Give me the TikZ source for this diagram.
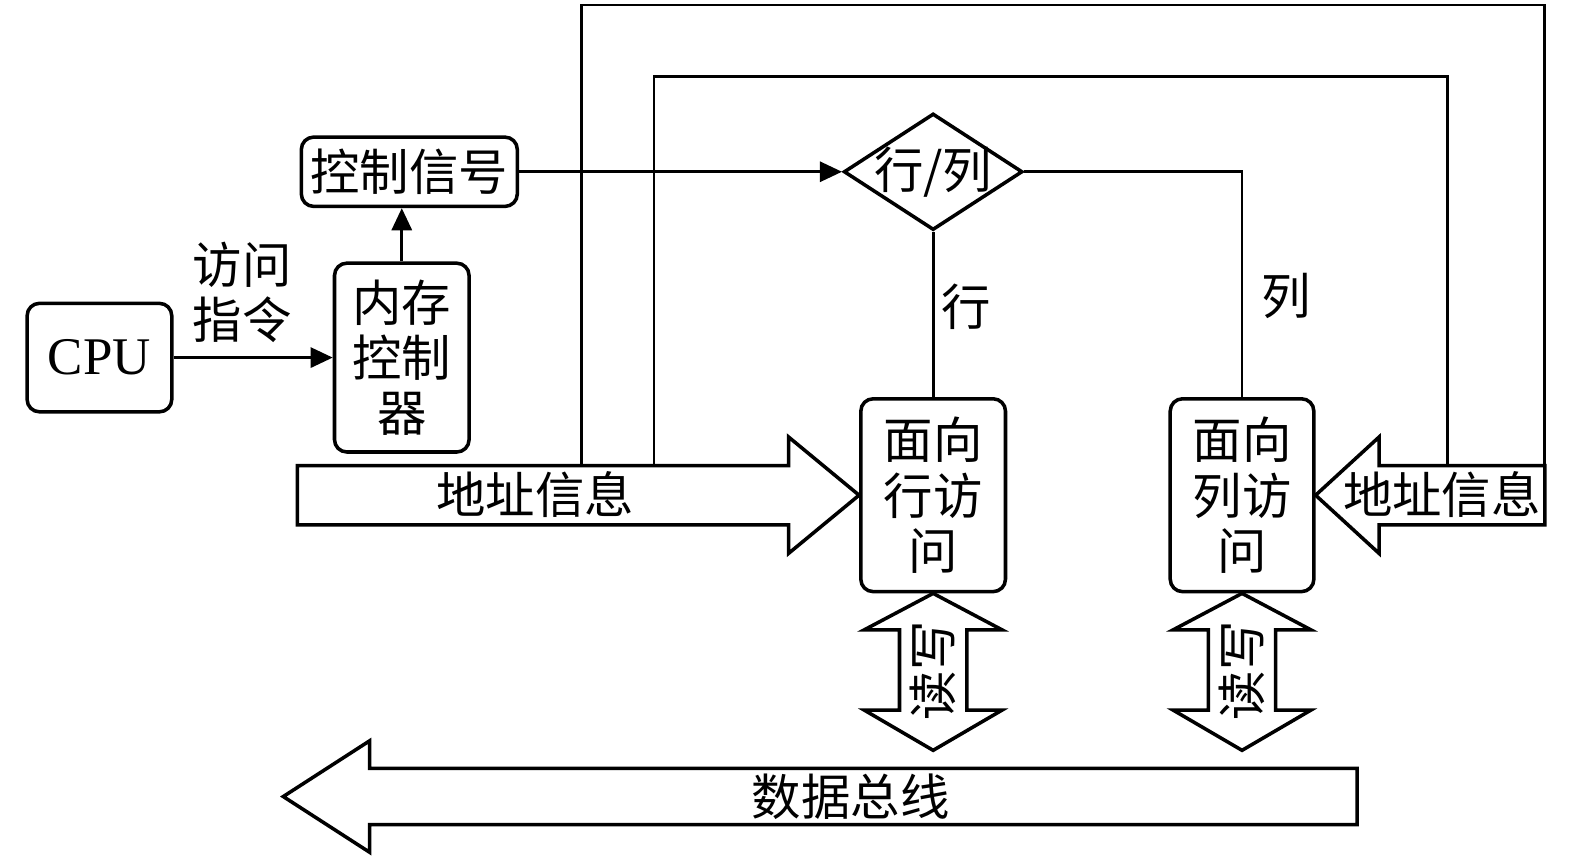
\documentclass[tikz,border=0pt]{standalone}
\usepackage{fontspec}
\setmainfont{Liberation Serif}
\newfontfamily\cjk{Noto Sans CJK SC}
\usetikzlibrary{arrows.meta,positioning,shapes.geometric}

\tikzset{
  blk/.style={draw, line width=1pt, rounded corners=3.5pt, align=center, inner sep=0pt,
              font=\cjk\fontsize{14}{15.6}\selectfont},
  lbl/.style={inner sep=0pt, align=center, font=\cjk\fontsize{14}{15.6}\selectfont},
  fat/.style={draw, line width=1pt, line join=miter},
  wire/.style={line width=0.8pt},
  sig/.style={wire, -{Triangle[length=0.22cm,width=0.2cm]}},
}

\begin{document}
\begin{tikzpicture}
  \useasboundingbox (0,0) rectangle (15.68,8.54);

  %% Blocks
  \node[blk, minimum width=1.44cm, minimum height=1.08cm, font=\fontsize{15}{17}\selectfont] (cpu) at (0.99,4.98) {CPU};
  \node[blk, minimum width=1.34cm, minimum height=1.88cm] (mc)   at (4.00,4.98)   {内存\\控制\\器};
  \node[blk, minimum width=2.15cm, minimum height=0.69cm] (ctrl) at (4.075,6.83)  {控制信号};
  \node[draw, line width=1pt, diamond, aspect=1.53, inner sep=0pt, minimum width=1.78cm, minimum height=1.16cm,
        label={[lbl]center:行/列}] (rc) at (9.29,6.83) {};
  \node[blk, minimum width=1.44cm, minimum height=1.92cm] (rowacc) at (9.29,3.61)   {面向\\行访\\问};
  \node[blk, minimum width=1.43cm, minimum height=1.92cm] (colacc) at (12.365,3.61) {面向\\列访\\问};

  %% Control path
  \draw[sig] (cpu.east) -- (mc.west);
  \node[lbl] (instr) at (2.41,5.63) {访问\\指令};
  \draw[sig] (mc.north) -- (mc.north |- ctrl.south);
  \draw[sig] (ctrl.east) -- (rc.west);
  \draw[wire] (rc.south) -- (rowacc.north);
  \draw[wire] (rc.east) -| (colacc.north);
  \node[lbl] (rowlbl) at (9.62,5.49) {行};
  \node[lbl] (collbl) at (12.80,5.59) {列};

  %% Address arrows
  \draw[fat] (2.96,3.315) -- (7.85,3.315) -- (7.85,3.03) -- (rowacc.west) -- (7.85,4.19) -- (7.85,3.905) -- (2.96,3.905) -- cycle;
  \node[lbl] (addrl) at (5.33,3.62) {地址信息};
  \draw[fat] (15.38,3.315) -- (13.73,3.315) -- (13.73,3.03) -- (colacc.east) -- (13.73,4.19) -- (13.73,3.905) -- (15.38,3.905) -- cycle;
  \node[lbl] (addrr) at (14.355,3.62) {地址信息};

  %% Feedback loops
  \coordinate (o1) at (5.79,3.905);
  \coordinate (o2) at (15.38,3.905);
  \coordinate (i1) at (6.51,3.905);
  \coordinate (i2) at (14.41,3.905);
  \draw[wire] (o1) -- ++(0,4.585) -| (o2);
  \draw[wire] (i1) -- ++(0,3.875) -| (i2);

  %% Read/write arrows
  \draw[fat] (rowacc.south) -- (9.975,2.27) -- (9.625,2.27) -- (9.625,1.47) -- (9.975,1.47) -- (9.29,1.07)
             -- (8.605,1.47) -- (8.955,1.47) -- (8.955,2.27) -- (8.605,2.27) -- cycle;
  \node[lbl, rotate=90] (rwrow) at (9.29,1.86) {读写};
  \draw[fat] (colacc.south) -- (13.05,2.27) -- (12.70,2.27) -- (12.70,1.47) -- (13.05,1.47) -- (12.365,1.07)
             -- (11.68,1.47) -- (12.03,1.47) -- (12.03,2.27) -- (11.68,2.27) -- cycle;
  \node[lbl, rotate=90] (rwcol) at (12.365,1.86) {读写};

  %% Data bus
  \draw[fat] (13.51,0.89) -- (3.68,0.89) -- (3.68,1.165) -- (2.82,0.61) -- (3.68,0.055) -- (3.68,0.33) -- (13.51,0.33) -- cycle;
  \node[lbl] (bus) at (8.47,0.61) {数据总线};
\end{tikzpicture}
\end{document}
